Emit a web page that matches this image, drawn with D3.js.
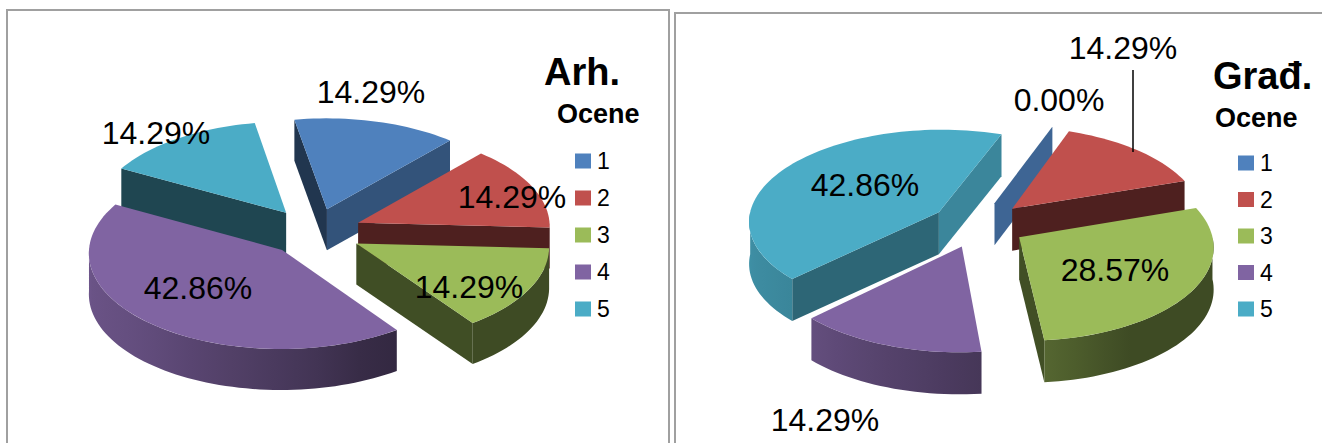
<!DOCTYPE html>
<html>
<head>
<meta charset="utf-8">
<script src="https://cdn.jsdelivr.net/npm/d3@7"></script>
<style>
  html, body { margin: 0; padding: 0; background: #fff; overflow: hidden; }
  text { font-family: "Liberation Sans", Arial, sans-serif; fill: #000; }
</style>
</head>
<body>
<script>
// grades and how many students got each one
var categories = ["1", "2", "3", "4", "5"];
var arhValues = [1, 1, 1, 3, 1];
var gradValues = [0, 1, 2, 1, 3];
var sliceColors = ["#4f81bd", "#c0504d", "#9bbb59", "#8064a2", "#4bacc6"];
var legendTitle = "Ocene";

var width = 1322, height = 443;

var svg = d3.select("body").append("svg")
    .attr("width", width)
    .attr("height", height);
var defs = svg.append("defs");

var color = d3.scaleOrdinal().domain(categories).range(sliceColors);
var pct = d3.format(".2%");

// shade of the flat cut faces, by the direction the face looks at (degrees)
var flatShade = d3.scaleLinear()
    .domain([90, 111, 131, 137, 162, 260, 270])
    .range([.8, .78, .65, .58, .40, .42, .42])
    .clamp(true);
// shade of the round outer wall, by angle on the rim
var rimShade = d3.scaleLinear()
    .domain([90, 150, 175, 226, 270])
    .range([.40, .40, .55, .78, .85])
    .clamp(true);

function shaded(c, s) {
    var r = d3.rgb(c);
    return d3.rgb(r.r * s, r.g * s, r.b * s).formatHex();
}

var lineGen = d3.line();
var gradientId = 0;

function drawChart(cfg) {
    var g = svg.append("g");
    var toRad = Math.PI / 180;

    // plane coordinates to screen, with a little perspective
    function project(X, Y, z) {
        var p = 1 / (1 + cfg.persp * Y);
        return [cfg.cx + cfg.rx * X * p, cfg.cy - cfg.ry * Y * p + (z || 0)];
    }

    var pie = d3.pie().sort(null)
        .startAngle(cfg.firstAngle * toRad)
        .endAngle((cfg.firstAngle + 360) * toRad);

    var total = d3.sum(cfg.values);
    var arcs = pie(cfg.values).map(function(d, i) {
        var a0 = d.startAngle / toRad, a1 = d.endAngle / toRad;
        var mid = (d.startAngle + d.endAngle) / 2;
        return {
            i: i, a0: a0, a1: a1, mid: mid,
            ax: cfg.explode * Math.sin(mid),
            ay: cfg.explode * Math.cos(mid),
            value: d.value
        };
    });

    function rim(d, deg, z) {
        return project(d.ax + Math.sin(deg * toRad), d.ay + Math.cos(deg * toRad), z);
    }
    function arcPoints(d, from, to, z) {
        var n = Math.max(1, Math.ceil(Math.abs(to - from) / 2));
        return d3.range(n + 1).map(function(j) {
            return rim(d, from + (to - from) * j / n, z);
        });
    }

    // painter's order, pieces at the back first
    arcs.sort(function(a, b) { return Math.cos(b.mid) - Math.cos(a.mid); });

    arcs.forEach(function(d) {
        var c = color(categories[d.i]);
        var slice = g.append("g");
        var apexTop = project(d.ax, d.ay, 0);
        var apexBot = project(d.ax, d.ay, cfg.depth);

        // cut faces
        function cutFace(deg, normal) {
            var pts = [apexTop, rim(d, deg, 0), rim(d, deg, cfg.depth), apexBot];
            slice.append("path")
                .attr("d", lineGen(pts) + "Z")
                .attr("fill", shaded(c, flatShade((normal + 720) % 360)));
        }
        if (Math.sin(d.a0 * toRad) < 0) cutFace(d.a0, d.a0 - 90);
        if (Math.sin(d.a1 * toRad) > 0) cutFace(d.a1, d.a1 + 90);

        // round wall, only the part that faces us (90 to 270 degrees)
        [0, 360].forEach(function(turn) {
            var from = Math.max(d.a0, 90 + turn), to = Math.min(d.a1, 270 + turn);
            if (to - from <= 0.01) return;
            var x1 = rim(d, from, 0)[0], x2 = rim(d, to, 0)[0];
            var id = "rim" + (gradientId++);
            var grad = defs.append("linearGradient")
                .attr("id", id)
                .attr("gradientUnits", "userSpaceOnUse")
                .attr("x1", x1).attr("x2", x2).attr("y1", 0).attr("y2", 0);
            d3.range(0, 1.0001, .1).forEach(function(t) {
                var deg = from + (to - from) * t;
                grad.append("stop")
                    .attr("offset", (rim(d, deg, 0)[0] - x1) / (x2 - x1))
                    .attr("stop-color", shaded(c, rimShade(deg - turn)));
            });
            var pts = arcPoints(d, from, to, 0).concat(arcPoints(d, to, from, cfg.depth));
            slice.append("path")
                .attr("d", lineGen(pts) + "Z")
                .attr("fill", "url(#" + id + ")");
        });

        // top face
        if (d.value > 0) {
            slice.append("path")
                .attr("d", lineGen([apexTop].concat(arcPoints(d, d.a0, d.a1, 0))) + "Z")
                .attr("fill", c);
        }
    });

    // leader line of the one label that has it
    if (cfg.leader) {
        g.append("line")
            .attr("x1", cfg.leader[0]).attr("x2", cfg.leader[0])
            .attr("y1", cfg.leader[1]).attr("y2", cfg.leader[2])
            .attr("stroke", "#000").attr("stroke-width", 1.5);
    }

    // percent labels
    g.selectAll(".label")
        .data(cfg.values)
        .enter().append("text")
        .attr("class", "label")
        .attr("text-anchor", "middle")
        .attr("font-size", 32)
        .attr("x", function(d, i) { return cfg.labelPos[i][0]; })
        .attr("y", function(d, i) { return cfg.labelPos[i][1]; })
        .text(function(d) { return pct(d / total); });

    // titles
    g.append("text")
        .attr("x", cfg.titleX).attr("y", cfg.titleY)
        .attr("font-size", 38).attr("font-weight", "bold")
        .text(cfg.title);
    g.append("text")
        .attr("x", cfg.legendTitleX).attr("y", cfg.legendTitleY)
        .attr("font-size", 27).attr("font-weight", "bold")
        .text(legendTitle);

    // legend
    var legendY = d3.scalePoint().domain(categories).range(cfg.legendRange);
    var items = g.selectAll(".legend-item")
        .data(categories)
        .enter().append("g")
        .attr("class", "legend-item")
        .attr("transform", function(d) { return "translate(" + cfg.legendX + "," + legendY(d) + ")"; });
    items.append("rect")
        .attr("x", 0).attr("y", -7.5)
        .attr("width", 16).attr("height", 15)
        .attr("fill", function(d) { return color(d); });
    items.append("text")
        .attr("x", 22).attr("y", 8)
        .attr("font-size", 23)
        .text(function(d) { return d; });
}

// frames of the two pasted charts
svg.append("rect")
    .attr("x", 7).attr("y", 10).attr("width", 662).attr("height", 460)
    .attr("fill", "none").attr("stroke", "#a0a0a0").attr("stroke-width", 2);
svg.append("rect")
    .attr("x", 675).attr("y", 13).attr("width", 700).attr("height", 460)
    .attr("fill", "none").attr("stroke", "#a0a0a0").attr("stroke-width", 2);

drawChart({
    values: arhValues, title: "Arh.",
    cx: 314, cy: 232, rx: 192, ry: 95, persp: .03, depth: 41, explode: .25, firstAngle: -10,
    labelPos: [[371, 103], [512, 208], [469, 298], [198, 299], [156, 144]],
    titleX: 544, titleY: 85, legendTitleX: 557, legendTitleY: 123,
    legendX: 575, legendRange: [161, 309]
});

drawChart({
    values: gradValues, title: "Građ.",
    cx: 978.5, cy: 224.5, rx: 191, ry: 92, persp: .09, depth: 42, explode: .25, firstAngle: 20,
    labelPos: [[1059, 111], [1123, 59], [1115, 281], [825, 431], [865, 196]],
    titleX: 1213, titleY: 89, legendTitleX: 1215, legendTitleY: 127,
    legendX: 1238, legendRange: [163, 309],
    leader: [1133, 70, 152]
});
</script>
</body>
</html>
